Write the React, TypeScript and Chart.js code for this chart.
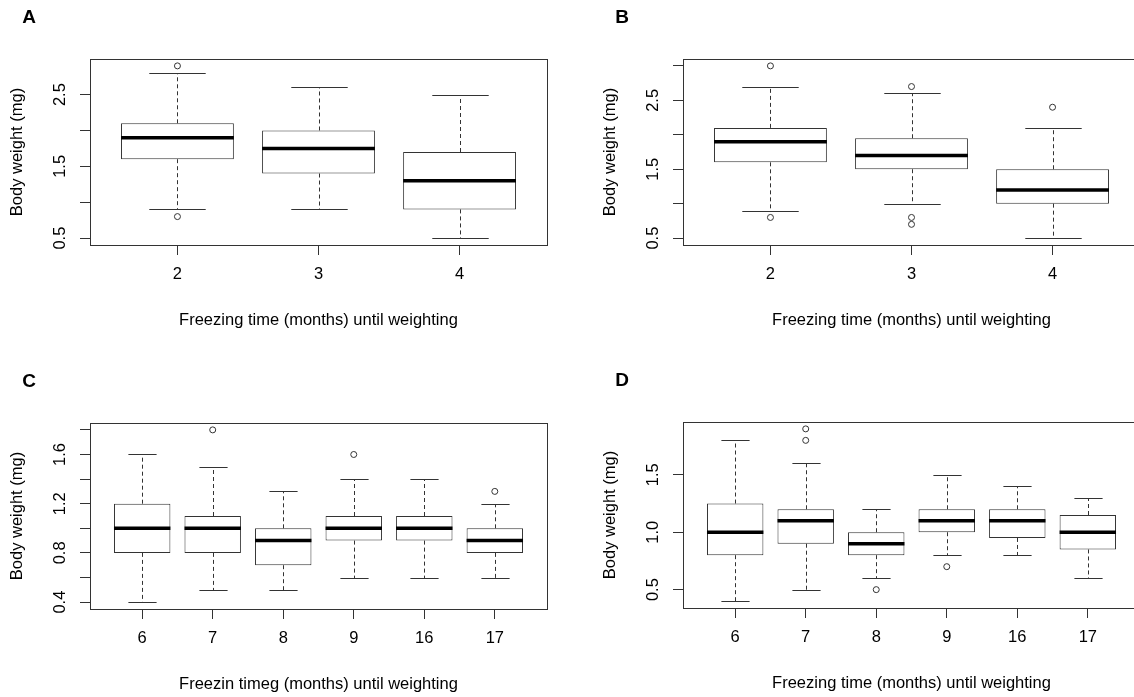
import React, { useEffect, useRef } from "react";
import { Chart, registerables } from "chart.js";
Chart.register(...registerables);

const FONT = '"Liberation Sans", Arial, Helvetica, sans-serif';

// ---------- Panel A ----------
const catsA = ["2", "3", "4"];
const lowA = [0.9, 0.9, 0.5];
const q1A = [1.6, 1.4, 0.9];
const medA = [1.9, 1.75, 1.3];
const q3A = [2.1, 2.0, 1.7];
const highA = [2.8, 2.6, 2.5];
const outA = [[2.9, 0.8], [], []];
const yTicksA = [0.5, 1.0, 1.5, 2.0, 2.5];
const yLabelsA = [0.5, 1.5, 2.5];

// ---------- Panel B ----------
const catsB = ["2", "3", "4"];
const lowB = [0.9, 1.0, 0.5];
const q1B = [1.6, 1.5, 1.0];
const medB = [1.9, 1.7, 1.2];
const q3B = [2.1, 1.95, 1.5];
const highB = [2.7, 2.6, 2.1];
const outB = [[3.0, 0.8], [2.7, 0.8, 0.7], [2.4]];
const yTicksB = [0.5, 1.0, 1.5, 2.0, 2.5, 3.0];
const yLabelsB = [0.5, 1.5, 2.5];

// ---------- Panel C ----------
const catsC = ["6", "7", "8", "9", "16", "17"];
const lowC = [0.4, 0.5, 0.5, 0.6, 0.6, 0.6];
const q1C = [0.8, 0.8, 0.7, 0.9, 0.9, 0.8];
const medC = [1.0, 1.0, 0.9, 1.0, 1.0, 0.9];
const q3C = [1.2, 1.1, 1.0, 1.1, 1.1, 1.0];
const highC = [1.6, 1.5, 1.3, 1.4, 1.4, 1.2];
const outC = [[], [1.8], [], [1.6], [], [1.3]];
const yTicksC = [0.4, 0.6, 0.8, 1.0, 1.2, 1.4, 1.6, 1.8];
const yLabelsC = [0.4, 0.8, 1.2, 1.6];

// ---------- Panel D ----------
const catsD = ["6", "7", "8", "9", "16", "17"];
const lowD = [0.4, 0.5, 0.6, 0.8, 0.8, 0.6];
const q1D = [0.8, 0.9, 0.8, 1.0, 0.95, 0.85];
const medD = [1.0, 1.1, 0.9, 1.1, 1.1, 1.0];
const q3D = [1.25, 1.2, 1.0, 1.2, 1.2, 1.15];
const highD = [1.8, 1.6, 1.2, 1.5, 1.4, 1.3];
const outD = [[], [1.9, 1.8], [0.5], [0.7], [], []];
const yTicksD = [0.5, 1.0, 1.5];
const yLabelsD = [0.5, 1.0, 1.5];

const yTitle = "Body weight (mg)";
const xTitleStd = "Freezing time (months) until weighting";
const xTitleC = "Freezin timeg (months) until weighting";

type PanelDef = {
  letter: string;
  cats: string[];
  low: number[];
  q1: number[];
  med: number[];
  q3: number[];
  high: number[];
  out: number[][];
  yTicks: number[];
  yLabels: number[];
  xTitle: string;
  left: number;
  top: number;
};

const panels: PanelDef[] = [
  { letter: "A", cats: catsA, low: lowA, q1: q1A, med: medA, q3: q3A, high: highA, out: outA, yTicks: yTicksA, yLabels: yLabelsA, xTitle: xTitleStd, left: 0, top: 0 },
  { letter: "B", cats: catsB, low: lowB, q1: q1B, med: medB, q3: q3B, high: highB, out: outB, yTicks: yTicksB, yLabels: yLabelsB, xTitle: xTitleStd, left: 593, top: 0 },
  { letter: "C", cats: catsC, low: lowC, q1: q1C, med: medC, q3: q3C, high: highC, out: outC, yTicks: yTicksC, yLabels: yLabelsC, xTitle: xTitleC, left: 0, top: 364 },
  { letter: "D", cats: catsD, low: lowD, q1: q1D, med: medD, q3: q3D, high: highD, out: outD, yTicks: yTicksD, yLabels: yLabelsD, xTitle: xTitleStd, left: 593, top: 363 },
];

const CW = 567;
const CH = 333;
const LINE = "#333333";

const boxPlugin = {
  id: "boxExtras",
  afterDatasetsDraw(chart: any, _args: any, opts: any) {
    const p: PanelDef = opts.panel;
    if (!p) return;
    const { ctx, scales } = chart;
    const y = scales.y;
    const meta = chart.getDatasetMeta(0);
    ctx.save();
    p.med.forEach((m: number, i: number) => {
      const bar = meta.data[i];
      const cx = Math.round(bar.x) + 0.5;
      const half = bar.width / 2;
      const capHalf = half / 2;
      const yq1 = y.getPixelForValue(p.q1[i]);
      const yq3 = y.getPixelForValue(p.q3[i]);
      const ylo = Math.round(y.getPixelForValue(p.low[i])) + 0.5;
      const yhi = Math.round(y.getPixelForValue(p.high[i])) + 0.5;
      // whiskers (dashed)
      ctx.strokeStyle = LINE;
      ctx.lineWidth = 1;
      ctx.setLineDash([4, 3]);
      ctx.beginPath();
      ctx.moveTo(cx, yq3);
      ctx.lineTo(cx, yhi);
      ctx.moveTo(cx, yq1);
      ctx.lineTo(cx, ylo);
      ctx.stroke();
      // caps
      ctx.setLineDash([]);
      ctx.beginPath();
      ctx.moveTo(cx - capHalf, yhi);
      ctx.lineTo(cx + capHalf, yhi);
      ctx.moveTo(cx - capHalf, ylo);
      ctx.lineTo(cx + capHalf, ylo);
      ctx.stroke();
      // median
      const ym = y.getPixelForValue(m);
      ctx.strokeStyle = "#000";
      ctx.lineWidth = 3.5;
      ctx.beginPath();
      ctx.moveTo(bar.x - half, ym);
      ctx.lineTo(bar.x + half, ym);
      ctx.stroke();
    });
    // plot frame
    const a = chart.chartArea;
    ctx.strokeStyle = LINE;
    ctx.lineWidth = 1;
    ctx.strokeRect(Math.round(a.left) + 0.5, Math.round(a.top) + 0.5, Math.round(a.right - a.left), Math.round(a.bottom - a.top));
    // panel letter
    ctx.fillStyle = "#000";
    ctx.font = `bold 19px ${FONT}`;
    ctx.textAlign = "center";
    ctx.textBaseline = "middle";
    ctx.fillText(p.letter, 29, 18);
    ctx.restore();
  },
};

function Panel({ p }: { p: PanelDef }) {
  const ref = useRef<HTMLCanvasElement | null>(null);
  useEffect(() => {
    if (!ref.current) return;
    const n = p.cats.length;
    const all: number[] = [...p.low, ...p.high, ...p.out.flat()];
    const lo = Math.min(...all);
    const hi = Math.max(...all);
    const ypad = 0.04 * (hi - lo);
    const xpad = 0.04 * n;
    const boxData = p.q1.map((v, i) => ({ x: i + 1, y: [v, p.q3[i]] }));
    const outData: { x: number; y: number }[] = [];
    p.out.forEach((arr, i) => arr.forEach((v) => outData.push({ x: i + 1, y: v })));
    const tickFont = { family: FONT, size: 16.5 };
    const chart = new Chart(ref.current, {
      type: "bar",
      data: {
        datasets: [
          {
            type: "bar",
            data: boxData as any,
            backgroundColor: "#ffffff",
            borderColor: LINE,
            borderWidth: 1,
            borderSkipped: false,
            barPercentage: 0.8,
            categoryPercentage: 1,
          } as any,
          {
            type: "scatter",
            data: outData,
            pointStyle: "circle",
            pointRadius: 3,
            pointBorderWidth: 1,
            pointBorderColor: LINE,
            pointBackgroundColor: "rgba(255,255,255,0)",
          } as any,
        ],
      },
      options: {
        animation: false,
        responsive: false,
        events: [],
        layout: { padding: { left: 0, top: 59, right: 20, bottom: 0 } },
        plugins: {
          legend: { display: false },
          tooltip: { enabled: false },
          boxExtras: { panel: p },
        } as any,
        scales: {
          x: {
            type: "linear",
            offset: false,
            min: 0.5 - xpad,
            max: n + 0.5 + xpad,
            afterBuildTicks: (s: any) => {
              s.ticks = p.cats.map((_, i) => ({ value: i + 1 }));
            },
            afterFit: (s: any) => {
              s.height = 88;
            },
            ticks: {
              autoSkip: false,
              maxRotation: 0,
              minRotation: 0,
              padding: 10,
              font: tickFont,
              color: "#000",
              callback: (v: any) => p.cats[Math.round(Number(v)) - 1] ?? "",
            },
            grid: { offset: false, drawOnChartArea: false, drawTicks: true, tickLength: 10, color: LINE, lineWidth: 1 },
            border: { display: false },
            title: {
              display: true,
              text: p.xTitle,
              font: { family: FONT, size: 16.5 },
              color: "#000",
              padding: { top: 0, bottom: 3 },
            },
          },
          y: {
            type: "linear",
            min: lo - ypad,
            max: hi + ypad,
            afterBuildTicks: (s: any) => {
              s.ticks = p.yTicks.map((v) => ({ value: v }));
            },
            afterFit: (s: any) => {
              s.width = 90;
            },
            ticks: {
              autoSkip: false,
              minRotation: 90,
              maxRotation: 90,
              crossAlign: "center",
              padding: 8,
              font: tickFont,
              color: "#000",
              callback: (v: any) =>
                p.yLabels.some((l) => Math.abs(l - Number(v)) < 1e-9) ? Number(v).toFixed(1) : "",
            },
            grid: { drawOnChartArea: false, drawTicks: true, tickLength: 10, color: LINE, lineWidth: 1 },
            border: { display: false },
            title: {
              display: true,
              text: yTitle,
              font: { family: FONT, size: 16.5 },
              color: "#000",
              padding: { top: 8, bottom: 0 },
            },
          },
        },
      } as any,
      plugins: [boxPlugin as any],
    });
    return () => chart.destroy();
  }, [p]);
  return (
    <canvas
      ref={ref}
      width={CW}
      height={CH}
      style={{ position: "absolute", left: p.left, top: p.top, width: CW, height: CH }}
    />
  );
}

export default function App() {
  return (
    <div
      style={{
        position: "absolute",
        left: 0,
        top: 0,
        width: 1134,
        height: 697,
        overflow: "hidden",
        background: "#ffffff",
      }}
    >
      {panels.map((p) => (
        <Panel key={p.letter} p={p} />
      ))}
    </div>
  );
}
